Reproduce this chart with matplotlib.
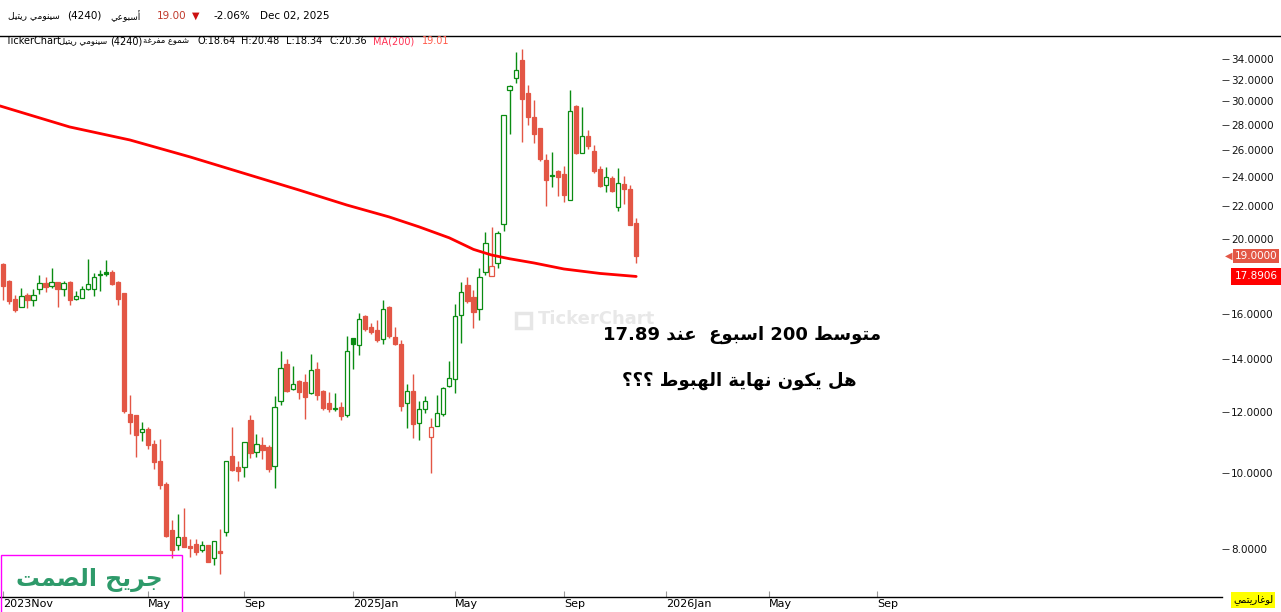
import re
import numpy as np
import matplotlib
matplotlib.use("Agg")
import matplotlib.pyplot as plt
from matplotlib import transforms
from matplotlib.patches import Rectangle
from matplotlib.lines import Line2D
from matplotlib.ticker import FixedLocator, NullLocator

plt.rcParams['font.family'] = ['DejaVu Sans']

# weekly candles, 4240 (Cenomi Retail), Nov 2023 -> Nov 30 2025 week
opens = [18.56, 17.66, 16.74, 16.37, 16.92, 16.70, 17.23, 17.55, 17.41, 17.59,
         17.26, 17.61, 16.76, 16.80, 17.26, 17.26, 17.99, 18.13, 18.13, 17.61,
         17.04, 11.92, 11.88, 11.30, 11.40, 10.91, 10.36, 9.70, 8.46, 8.09,
         8.29, 8.07, 8.12, 7.97, 8.09, 7.78, 7.95, 8.42, 10.53, 10.19,
         10.20, 11.71, 10.64, 10.88, 10.82, 10.21, 12.37, 13.81, 12.82, 13.14,
         13.10, 12.67, 13.60, 12.75, 12.31, 12.11, 12.17, 11.87, 14.90, 14.60,
         15.92, 15.41, 15.28, 14.86, 16.36, 14.97, 14.65, 12.30, 12.75, 11.59,
         12.08, 11.12, 11.52, 11.92, 12.96, 13.21, 15.96, 17.43, 16.84, 16.24,
         18.11, 17.90, 18.64, 20.89, 31.06, 32.13, 33.91, 30.76, 28.65, 27.73,
         25.24, 24.17, 24.39, 24.21, 22.40, 29.60, 25.74, 27.09, 25.91, 24.57,
         23.42, 23.93, 21.96, 23.49, 23.17, 20.95]
highs = [18.60, 17.70, 16.92, 17.29, 17.04, 17.24, 17.97, 17.86, 18.35, 17.60,
         17.66, 17.66, 17.14, 17.38, 18.84, 18.08, 18.24, 18.78, 18.22, 17.66,
         17.06, 12.61, 11.90, 11.64, 11.47, 11.03, 11.07, 9.76, 8.72, 8.87,
         9.03, 8.24, 8.23, 8.19, 8.10, 8.20, 8.49, 10.38, 11.47, 10.38,
         10.97, 11.88, 11.24, 11.14, 10.89, 12.57, 14.37, 14.02, 13.73, 13.18,
         13.41, 14.23, 13.90, 12.79, 12.72, 12.68, 12.35, 15.02, 14.92, 16.07,
         15.97, 15.59, 15.73, 16.69, 16.40, 15.41, 14.83, 13.02, 13.41, 12.40,
         12.57, 11.78, 12.61, 12.90, 13.94, 16.50, 17.59, 17.84, 17.19, 18.33,
         20.37, 20.70, 20.48, 28.82, 31.50, 34.67, 35.02, 31.50, 30.13, 27.75,
         25.68, 25.84, 24.50, 24.79, 31.03, 29.69, 29.51, 27.57, 26.36, 24.79,
         24.72, 24.10, 24.65, 24.07, 23.44, 21.24]
lows = [16.69, 16.51, 16.13, 16.35, 16.31, 16.40, 16.99, 17.10, 17.31, 16.36,
        16.90, 16.45, 16.70, 16.80, 17.21, 16.90, 17.14, 17.94, 17.47, 16.45,
        11.95, 11.24, 10.51, 11.02, 10.76, 10.14, 9.56, 8.30, 7.79, 7.98,
        8.04, 7.82, 7.87, 7.93, 7.69, 7.63, 7.44, 8.32, 10.08, 9.79,
        9.90, 10.47, 10.51, 10.45, 10.04, 9.58, 12.25, 12.72, 12.81, 12.47,
        11.75, 12.66, 12.43, 12.07, 11.99, 12.03, 11.72, 11.83, 13.62, 14.20,
        15.25, 15.10, 14.76, 14.67, 14.93, 14.62, 12.03, 11.43, 11.09, 11.03,
        11.94, 10.00, 11.51, 11.86, 12.92, 12.67, 14.72, 16.56, 15.38, 15.72,
        17.97, 17.89, 18.34, 20.48, 27.25, 31.64, 26.64, 28.01, 26.56, 25.18,
        22.04, 23.32, 22.71, 22.29, 22.40, 25.71, 25.73, 26.10, 24.31, 23.32,
        22.98, 22.97, 21.73, 22.13, 20.84, 18.63]
closes = [17.41, 16.66, 16.18, 16.87, 16.70, 16.92, 17.54, 17.36, 17.59, 17.26,
          17.54, 16.70, 16.87, 17.24, 17.49, 17.85, 18.01, 18.04, 17.52, 16.76,
          12.03, 11.65, 11.21, 11.40, 10.86, 10.34, 9.67, 8.32, 7.98, 8.28,
          8.05, 8.03, 7.94, 8.09, 7.70, 8.19, 7.91, 10.37, 10.11, 10.08,
          10.96, 10.63, 10.90, 10.73, 10.14, 12.16, 13.64, 12.76, 13.01, 12.72,
          12.55, 13.59, 12.62, 12.14, 12.10, 12.13, 11.86, 14.35, 14.64, 15.76,
          15.34, 15.19, 14.84, 16.24, 15.02, 14.67, 12.21, 12.75, 11.58, 12.08,
          12.37, 11.46, 11.94, 12.88, 13.24, 15.92, 17.07, 16.66, 16.13, 17.85,
          19.72, 18.44, 20.36, 28.80, 31.43, 32.87, 30.25, 28.68, 27.28, 25.33,
          23.81, 24.07, 23.98, 22.78, 29.13, 25.78, 27.06, 26.33, 24.45, 23.39,
          23.98, 23.02, 23.56, 23.17, 20.85, 19.00]

# MA(200) at a few candle positions
ma_idx = [-0.55, 5, 11, 21, 31, 43, 49, 57, 64, 69, 74, 78, 81, 84, 88, 93, 99, 105]
ma_val = [29.60, 28.73, 27.82, 26.77, 25.46, 23.86, 23.10, 22.09, 21.33, 20.71,
          20.05, 19.38, 19.06, 18.85, 18.62, 18.29, 18.05, 17.89]

month_pos = [0, 24, 40, 58, 75, 93, 110, 127, 145]
month_lab = ['2023Nov', 'May', 'Sep', '2025Jan', 'May', 'Sep', '2026Jan', 'May', 'Sep']
price_ticks = [8, 10, 12, 14, 16, 20, 22, 24, 26, 28, 30, 32, 34]

RED = '#e35645'
GREEN = '#0a8c12'

# --- tiny arabic shaper (presentation forms + visual order) ---
AR_FORMS = {
    'ا': (0xFE8D, 2), 'أ': (0xFE83, 2), 'د': (0xFEA9, 2), 'ر': (0xFEAD, 2),
    'و': (0xFEED, 2), 'ة': (0xFE93, 2),
    'ب': (0xFE8F, 4), 'ت': (0xFE95, 4), 'ج': (0xFE9D, 4), 'ح': (0xFEA1, 4),
    'س': (0xFEB1, 4), 'ش': (0xFEB5, 4), 'ص': (0xFEB9, 4), 'ط': (0xFEC1, 4),
    'ع': (0xFEC9, 4), 'غ': (0xFECD, 4), 'ف': (0xFED1, 4), 'ك': (0xFED9, 4),
    'ل': (0xFEDD, 4), 'م': (0xFEE1, 4), 'ن': (0xFEE5, 4), 'ه': (0xFEE9, 4),
    'ي': (0xFEF1, 4),
}


def ar(s):
    out = []
    for i, ch in enumerate(s):
        if ch not in AR_FORMS:
            out.append(ch)
            continue
        base, n = AR_FORMS[ch]
        prev = s[i - 1] if i > 0 else ''
        nxt = s[i + 1] if i + 1 < len(s) else ''
        jp = prev in AR_FORMS and AR_FORMS[prev][1] == 4
        jn = n == 4 and nxt in AR_FORMS
        if jp and jn:
            code = base + 3
        elif jp:
            code = base + 1
        elif jn:
            code = base + 2
        else:
            code = base
        out.append(chr(code))
    t = ''.join(out)
    runs = re.findall(r'[0-9A-Za-z.,:%()]+|[^0-9A-Za-z.,:%()]+', t)
    vis = []
    for r in reversed(runs):
        vis.append(r if re.match(r'[0-9A-Za-z]', r[0]) else r[::-1])
    return ''.join(vis)


W, H = 1281, 612
fig = plt.figure(figsize=(W / 100, H / 100), dpi=100)
ax = fig.add_axes([0, 15.5 / H, 1222 / W, (596.5 - 36) / H])

o = np.array(opens)
h = np.array(highs)
l = np.array(lows)
c = np.array(closes)
x = np.arange(len(c))
prev = np.r_[o[0], c[:-1]]
cols = np.where(c >= prev, GREEN, RED)
face = ['white' if cc > oo else col for cc, oo, col in zip(c, o, cols)]

ax.vlines(x, l, h, colors=cols, linewidth=1.0, zorder=2)
ax.bar(x, np.abs(c - o), bottom=np.minimum(o, c), width=0.7, color=face,
       edgecolor=cols, linewidth=0.9, zorder=3)
ax.plot(ma_idx, ma_val, color='#ff0000', lw=2.0, zorder=4, solid_capstyle='round')

ax.set_yscale('log')
ax.set_ylim(6.953, 36.39)
ax.set_xlim(-0.55, 202.2)
ax.yaxis.set_major_locator(FixedLocator(price_ticks))
ax.yaxis.set_minor_locator(NullLocator())
ax.set_yticklabels([f'{v:.4f}' for v in price_ticks])
ax.yaxis.tick_right()
ax.tick_params(axis='y', length=5, width=0.7, color='#444444', pad=1.5,
               labelsize=7.5, labelcolor='#111111')

ax.set_xticks(month_pos)
ax.set_xticklabels(month_lab)
for lab in ax.get_xticklabels():
    lab.set_ha('left')
ax.tick_params(axis='x', direction='in', length=4, width=0.8, color='#999999',
               pad=2, labelsize=8)

for side in ['top', 'left', 'right']:
    ax.spines[side].set_visible(False)
ax.spines['bottom'].set_linewidth(1.0)
ax.spines['bottom'].set_color('black')

# header separator
fig.add_artist(Line2D([0, 1], [1 - 35.5 / H] * 2, transform=fig.transFigure,
                      color='black', lw=1.0))


def ftext(px, py, s, **kw):
    kw.setdefault('va', 'center')
    kw.setdefault('fontsize', 7.5)
    return fig.text(px / W, 1 - py / H, s, **kw)


# header line 1
ftext(60, 16, ar('سينومي ريتيل'), fontsize=6.5, ha='right')
ftext(67, 16, '(4240)')
ftext(141, 16, ar('أسبوعي'), fontsize=6.5, ha='right')
ftext(157, 16, '19.00', color='#c0392b')
ftext(192, 16, '▼', color='#cc1111', fontsize=7)
ftext(213, 16, '-2.06%')
ftext(260, 16, 'Dec 02, 2025')

# header line 2 (inside plot)
ftext(5, 41, 'TickerChart', fontsize=7)
ftext(107, 41, ar('سينومي ريتيل'), fontsize=6, ha='right')
ftext(110, 41, '(4240)', fontsize=7)
ftext(189, 41, ar('شموع مفرغة'), fontsize=6, ha='right')
ftext(197, 41, 'O:18.64', fontsize=7)
ftext(241, 41, 'H:20.48', fontsize=7)
ftext(286, 41, 'L:18.34', fontsize=7)
ftext(329, 41, 'C:20.36', fontsize=7)
ftext(373, 41, 'MA(200)', fontsize=7, color='#ff3355')
ftext(422, 41, '19.01', fontsize=7, color='#ff5a4a')

# watermark
fig.add_artist(Rectangle((516 / W, 1 - 328 / H), 15 / W, 15 / H, transform=fig.transFigure,
                         fill=False, edgecolor='#e6e6e6', lw=2.5))
ftext(538, 319, 'TickerChart', fontsize=13, fontweight='bold', color='#e8e8e8')

# annotations
ftext(603, 335, ar('متوسط 200 اسبوع  عند 17.89'), fontsize=13, fontweight='bold')
ftext(622, 381, ar('هل يكون نهاية الهبوط ؟؟؟'), fontsize=13, fontweight='bold')

# signature box
fig.add_artist(Rectangle((0.5 / W, -0.02), 181 / W, (612 - 555) / H + 0.02,
                         transform=fig.transFigure, fill=False, edgecolor='#ff00ff', lw=1.0))
ftext(89, 580, ar('جريح الصمت'), fontsize=17, fontweight='bold', color='#2e9a6a', ha='center')

# price labels on the right
blend = transforms.blended_transform_factory(fig.transFigure, ax.transData)
fig.text(1256 / W, closes[-1], '19.0000', transform=blend, ha='center', va='center',
         fontsize=7.5, color='white',
         bbox=dict(boxstyle='square,pad=0.2', fc=RED, ec='none'))
fig.text(1229 / W, closes[-1], '◀', transform=blend, ha='center', va='center',
         fontsize=7, color=RED)
fig.text(1256 / W, ma_val[-1], '17.8906', transform=blend, ha='center', va='center',
         fontsize=7.5, color='white',
         bbox=dict(boxstyle='square,pad=0.3', fc='#ff0000', ec='none'))

# log scale box
ftext(1253, 600, ar('لوغاريتمي'), fontsize=7, ha='center',
      bbox=dict(boxstyle='square,pad=0.25', fc='#ffff00', ec='none'))

fig.savefig('out.png', dpi=100)
